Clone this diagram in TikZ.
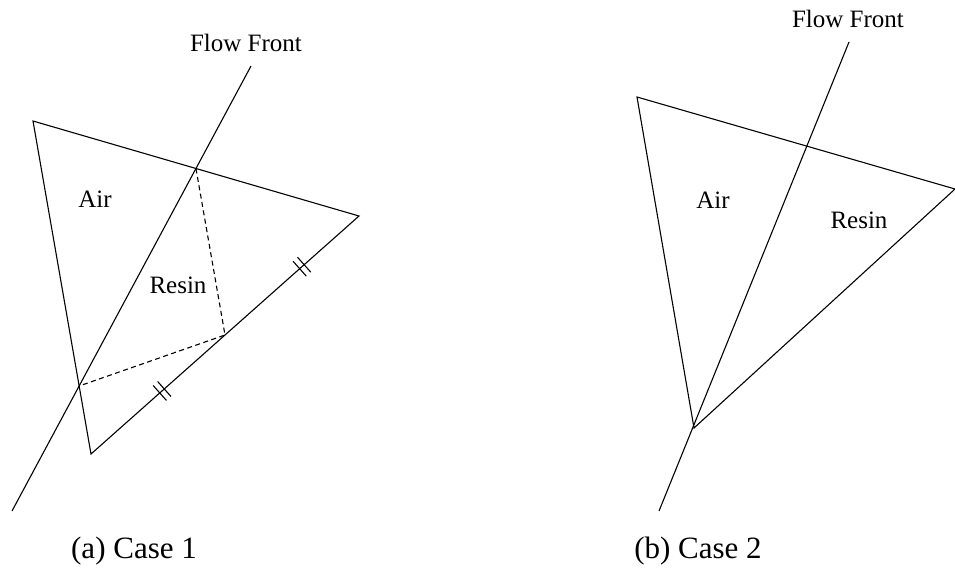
\documentclass[tikz,border=0pt]{standalone}
\usepackage{fontspec}
\setmainfont{Liberation Serif}
\usetikzlibrary{calc}

\begin{document}
\begin{tikzpicture}[x=1pt,y=-1pt]
\tikzstyle{boundary}=[line width=1.1pt]
\tikzstyle{guide}=[line width=1.1pt,dash pattern=on 5pt off 3.5pt]
\tikzstyle{region}=[font=\fontsize{25}{30}\selectfont,inner sep=0pt]
\tikzstyle{caption}=[font=\fontsize{31}{37}\selectfont,inner sep=0pt]
\useasboundingbox (0,0) rectangle (955,574);

% case 1: front crosses two edges
\coordinate (A1) at (33,121);
\coordinate (B1) at (359,216);
\coordinate (C1) at (91,454);
\coordinate (F1) at (251,66);
\coordinate (G1) at (12,511);
\draw[boundary] (A1) -- (B1) -- (C1) -- cycle;
\draw[boundary] (F1) -- (G1);
\coordinate (P1) at (intersection of A1--B1 and F1--G1);
\coordinate (P2) at (intersection of A1--C1 and F1--G1);
\coordinate (Q1) at ($(C1)!0.5!(B1)$);
\draw[guide] (P1) -- (Q1) -- (P2);
\foreach \t in {0.265,0.787}{
  \foreach \s in {-3pt,3pt}{
    \coordinate (T) at ($(C1)!\t!(B1)!\s!(B1)$);
    \draw[boundary] ($(T)!10pt!90:(B1)$) -- ($(T)!10pt!-90:(B1)$);
  }
}
\node[region] (front1) at (246,43) {Flow Front};
\node[region] (air1) at (95,199) {Air};
\node[region] (resin1) at (178,285) {Resin};
\node[caption] (cap1) at (134,551) {(a) Case 1};

% case 2: front through a vertex
\coordinate (A2) at (637,97);
\coordinate (B2) at (955,189);
\coordinate (C2) at (694,428);
\coordinate (F2) at (849,42);
\coordinate (G2) at (659,511);
\draw[boundary] (A2) -- (B2) -- (C2) -- cycle;
\draw[boundary] (F2) -- (G2);
\node[region] (front2) at (848,19) {Flow Front};
\node[region] (air2) at (713,200) {Air};
\node[region] (resin2) at (859,220) {Resin};
\node[caption] (cap2) at (698,551) {(b) Case 2};
\end{tikzpicture}
\end{document}
